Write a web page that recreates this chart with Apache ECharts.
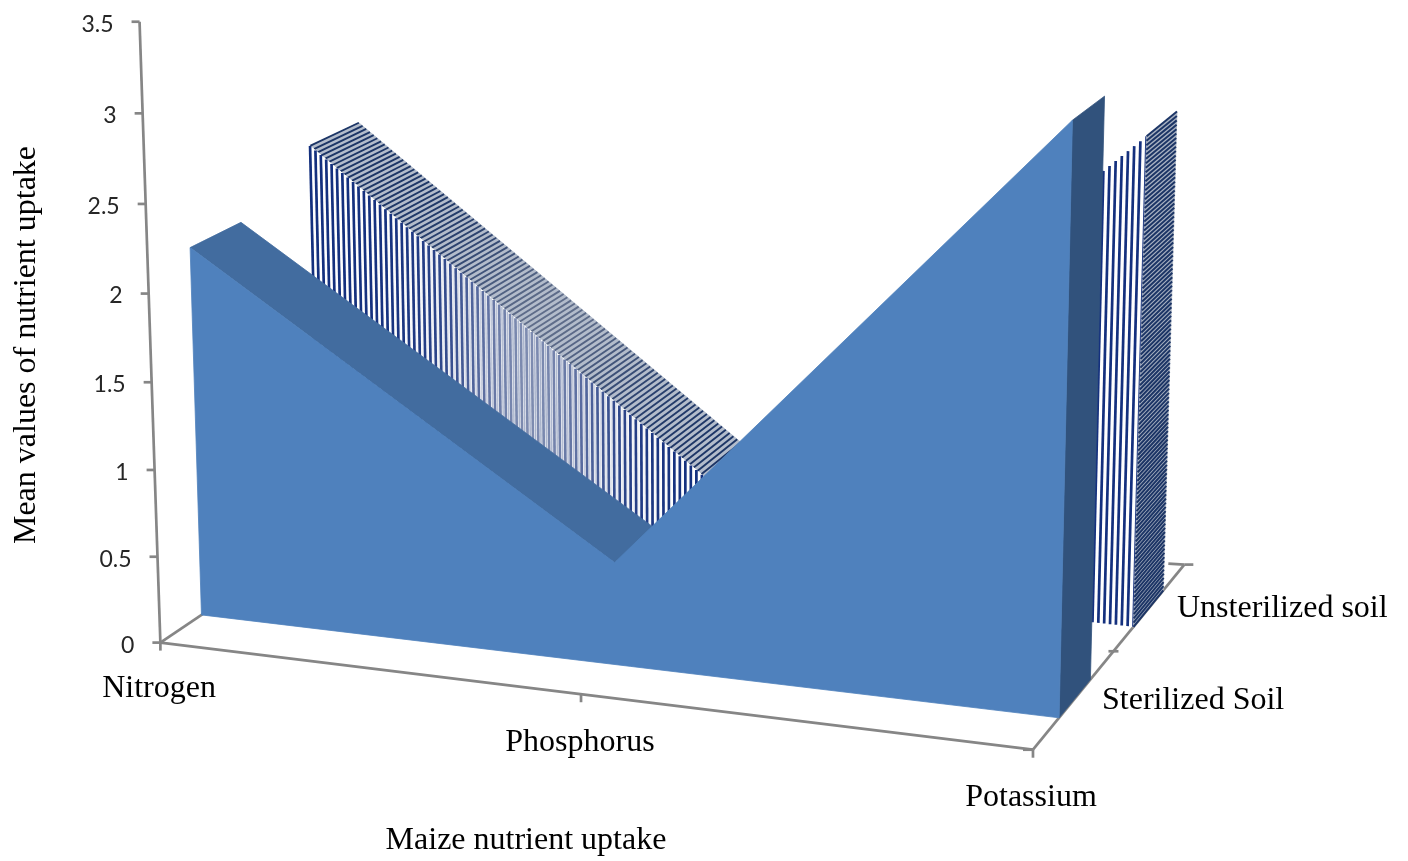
<!DOCTYPE html>
<html><head><meta charset="utf-8">
<style>html,body{margin:0;padding:0;background:#fff}#c{width:1408px;height:861px}</style>
<script src="https://cdn.jsdelivr.net/npm/echarts@6/dist/echarts.min.js"></script>
</head><body><div id="c"></div>
<script>
// ---- data ----
const categories = ['Nitrogen', 'Phosphorus', 'Potassium'];
const depthCategories = ['Sterilized Soil', 'Unsterilized soil'];
const sterilized = [2.14, 0.585, 3.22];
const unsterilized = [2.39, 0.58, 2.815];
const valueTicks = [0, 0.5, 1, 1.5, 2, 2.5, 3, 3.5];
const xTitle = 'Maize nutrient uptake';
const yTitle = 'Mean values of nutrient uptake';

// ---- view: projection of (x 0..1, z 0..1, value) onto the page ----
const VMAX = 3.5;
const anchors = [
 [0,0,0,160,642],[.5,0,0,580,696],[1,0,0,1031,750],[1,.5,0,1117,650],[1,1,0,1183,564],[0,1,0,400,482],
 [0,0,.5,158,557],[0,0,1,155,470],[0,0,1.5,152.5,381],[0,0,2,150,293],[0,0,2.5,145,204],[0,0,3,142,113],[0,0,3.5,139,22],
 [1,0,3.5,1047,86]
];
function solve(A){
  const n=A.length;
  const M=A.map(r=>r.slice());
  for(let i=0;i<n;i++){
    let p=i;for(let r=i+1;r<n;r++)if(Math.abs(M[r][i])>Math.abs(M[p][i]))p=r;
    [M[i],M[p]]=[M[p],M[i]];
    for(let r=0;r<n;r++){if(r===i)continue;const f=M[r][i]/M[i][i];for(let c=i;c<=n;c++)M[r][c]-=f*M[i][c];}
  }
  return M.map((r,i)=>r[n]/r[i]);
}
const P=(function(){
  const rows=[];
  anchors.forEach(([x,z,v,X,Y])=>{
    rows.push([x,z,v,1,0,0,0,0,-X*x,-X*z,-X*v,X]);
    rows.push([0,0,0,0,x,z,v,1,-Y*x,-Y*z,-Y*v,Y]);
  });
  const A=[];
  for(let i=0;i<11;i++){A.push([]);for(let j=0;j<12;j++){let s=0;rows.forEach(r=>s+=r[i]*r[j]);A[i].push(s);}}
  return solve(A);
})();
function proj(x,z,v){
  const w=P[8]*x+P[9]*z+P[10]*v+1;
  return [(P[0]*x+P[1]*z+P[2]*v+P[3])/w,(P[4]*x+P[5]*z+P[6]*v+P[7])/w];
}
const serif='"Liberation Serif","Times New Roman",serif';
const sans='Lato,"Open Sans",sans-serif';
const AXIS='#868686';

// convert a value pair to the flat (x, v) through the hidden cartesian axes
function flat(api,params,cat,val){
  const c=api.coord([cat,val]),s=params.coordSys;
  return [(c[0]-s.x)/s.width,VMAX*(s.y+s.height-c[1])/s.height];
}
function poly(points,fill){return {type:'polygon',shape:{points},style:{fill,stroke:fill,lineWidth:.8}};}
function line(a,b,stroke,lineWidth){return {type:'line',shape:{x1:a[0],y1:a[1],x2:b[0],y2:b[1]},style:{stroke,lineWidth}};}
function mix(a,b,f){const h=s=>[1,3,5].map(i=>parseInt(s.substr(i,2),16));const A=h(a),B=h(b);
  return 'rgb('+A.map((c,i)=>Math.round(c+(B[i]-c)*f)).join(',')+')';}
function wash(px){const d=(px-530)/78;return Math.exp(-d*d);}

// ---- solid blue series ----
const Z1=[.155,.35];
function renderSolid(params,api){
  const i=params.dataIndex,vals=sterilized;
  const a=flat(api,params,i,api.value(1));
  const ch=[];
  if(i<categories.length-1){
    const b=flat(api,params,i+1,vals[i+1]);
    if(b[1]<a[1]) ch.push(poly([proj(a[0],Z1[0],a[1]),proj(a[0],Z1[1],a[1]),proj(b[0],Z1[1],b[1]),proj(b[0],Z1[0],b[1])],'#426c9f'));
  } else {
    ch.push(poly([proj(a[0],Z1[0],0),proj(a[0],Z1[0],a[1]),proj(a[0],Z1[1],a[1]),proj(a[0],Z1[1],0)],'#31527c'));
    const top=vals.map((v,k)=>{const f=flat(api,params,k,v);return proj(f[0],Z1[0],f[1]);});
    const f0=flat(api,params,0,0),f1=flat(api,params,vals.length-1,0);
    ch.push(poly([proj(f0[0],Z1[0],0)].concat(top,[proj(f1[0],Z1[0],0)]),'#4f81bd'));
  }
  return {type:'group',children:ch};
}
// ---- hatched series ----
const Z2=[.635,.845];
const STRIPES=74, TOP_STRIPES=105, SIDE=112;
function renderHatched(params,api){
  const i=params.dataIndex,vals=unsterilized;
  const a=flat(api,params,i,api.value(1));
  const ch=[];
  if(i<categories.length-1){
    const b=flat(api,params,i+1,vals[i+1]);
    const desc=b[1]<a[1];
    if(desc){
      ch.push(poly([proj(a[0],Z2[0],a[1]),proj(a[0],Z2[1],a[1]),proj(b[0],Z2[1],b[1]),proj(b[0],Z2[0],b[1])],'#b3bccb'));
      for(let k=0;k<=TOP_STRIPES;k++){
        const t=k/TOP_STRIPES,x=a[0]+(b[0]-a[0])*t,v=a[1]+(b[1]-a[1])*t;
        const p1=proj(x,Z2[0],v);
        ch.push(line(p1,proj(x,Z2[1],v),mix('#1c3566','#5f6d8a',wash(p1[0])),1.9));
      }
    }
    ch.push(poly([proj(a[0],Z2[0],0),proj(a[0],Z2[0],a[1]),proj(b[0],Z2[0],b[1]),proj(b[0],Z2[0],0)],'#ffffff'));
    for(let k=0;k<=STRIPES;k++){
      const t=k/STRIPES,x=a[0]+(b[0]-a[0])*t,v=a[1]+(b[1]-a[1])*t;
      const p0=proj(x,Z2[0],0),p1=proj(x,Z2[0],v),f=wash(p1[0]);
      ch.push(line(p0,p1,mix('#14307e','#7d8bb0',f),2.7));
      if(k<STRIPES){
        const q=t+.5/STRIPES,xm=a[0]+(b[0]-a[0])*q,vm=a[1]+(b[1]-a[1])*q;
        ch.push(line(proj(xm,Z2[0],0),proj(xm,Z2[0],vm),mix('#ffffff','#aab4cc',f),1.6));
      }
    }
  } else {
    ch.push(poly([proj(a[0],Z2[0],0),proj(a[0],Z2[0],a[1]),proj(a[0],Z2[1],a[1]),proj(a[0],Z2[1],0)],'#a9b2c2'));
    for(let k=0;k<=SIDE;k++){
      const v=a[1]*k/SIDE;
      ch.push(line(proj(a[0],Z2[0],v),proj(a[0],Z2[1],v),'#1c3566',2));
    }
  }
  return {type:'group',children:ch};
}
// ---- axes frame and labels ----
function text(str,x,y,font,size,align,fill,rotation){
  return {type:'text',x,y,rotation:rotation||0,style:{text:str,fontFamily:font,fontSize:size,fill:fill||'#000',align:align||'center',verticalAlign:'middle'}};
}
function renderFrame(){
  const ch=[];
  const W=2.7;
  const o=proj(0,0,0),xe=proj(1,0,0),ze=proj(1,1,0);
  ch.push(line(proj(0,0,0),proj(0,0,VMAX),AXIS,W));
  ch.push(line(o,xe,AXIS,W));
  ch.push(line(xe,ze,AXIS,W));
  ch.push(line(o,proj(0,1,0),AXIS,W));
  valueTicks.forEach(t=>{
    const p=proj(0,0,t);
    ch.push(line([p[0]-8,p[1]],p,AXIS,W));
    ch.push(text(String(t),p[0]-26,p[1]+2.5,sans,23,'right','#262626'));
  });
  categories.forEach((c,i)=>{
    const p=proj(i/2,0,0);
    ch.push(line(p,[p[0],p[1]+8],AXIS,W));
  });
  ch.push(line([xe[0]-10,xe[1]],xe,AXIS,W));
  const zm=proj(1,.5,0);
  ch.push(line([zm[0]-5,zm[1]],[zm[0]+5,zm[1]],AXIS,W));
  ch.push(line(ze,[ze[0]+9,ze[1]],AXIS,W));
  ch.push(line([ze[0]-16,ze[1]-1],ze,AXIS,W));
  ch.push(text(categories[0],159,689,serif,32));
  ch.push(text(categories[1],580,743,serif,32));
  ch.push(text(categories[2],1031,798,serif,32));
  ch.push(text(depthCategories[0],1102,701,serif,32,'left'));
  ch.push(text(depthCategories[1],1177,609,serif,32,'left'));
  ch.push(text(xTitle,526,841,serif,32));
  ch.push(text(yTitle,27,345,serif,32,'center','#000',Math.PI/2));
  return {type:'group',children:ch};
}
const chart=echarts.init(document.getElementById('c'),null,{renderer:'canvas'});
chart.setOption({
  animation:false,
  backgroundColor:'#fff',
  grid:{left:160,right:378,top:22,bottom:219},
  xAxis:{type:'category',data:categories,boundaryGap:false,show:false},
  yAxis:{type:'value',min:0,max:VMAX,interval:.5,show:false},
  series:[
    {type:'custom',name:'frame',silent:true,z:1,clip:false,data:[[0,0]],renderItem:renderFrame},
    {type:'custom',name:depthCategories[1],silent:true,z:2,clip:false,data:unsterilized.map((v,i)=>[i,v]),renderItem:renderHatched},
    {type:'custom',name:depthCategories[0],silent:true,z:3,clip:false,data:sterilized.map((v,i)=>[i,v]),renderItem:renderSolid}
  ]
});
</script></body></html>
